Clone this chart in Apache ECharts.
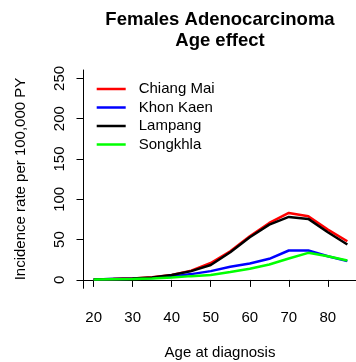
<!DOCTYPE html>
<html>
<head>
<meta charset="utf-8">
<script src="https://cdn.jsdelivr.net/npm/echarts@6/dist/echarts.min.js"></script>
<style>html,body{margin:0;padding:0;background:#fff;}#c{width:356px;height:362px;}</style>
</head>
<body>
<div id="c"></div>
<script>
const ages = [20,25,30,35,40,45,50,55,60,65,70,75,80,85];
const chiangMai = [0.6,1.2,1.9,3.2,6.2,11.5,21,35.6,54.2,70.7,83.1,78.9,62.4,48];
const khonKaen = [0.5,1.0,1.5,2.5,4.0,7.2,10.9,16.3,20.4,26.2,36.5,36.5,29.4,23.3];
const lampang = [0.6,1.2,1.8,3.0,6.0,10.9,18.5,34.4,53,68.6,78.1,75.7,59.1,43.9];
const songkhla = [0.4,0.8,1.2,1.9,3.0,4.7,6.0,9.7,13.8,19.2,26.6,33.6,29.4,24.1];
const seriesNames = ['Chiang Mai','Khon Kaen','Lampang','Songkhla'];
const xTicks = [20,30,40,50,60,70,80];
const yTicks = [0,50,100,150,200,250];
const titleText = 'Females Adenocarcinoma\nAge effect';
const xTitle = 'Age at diagnosis';
const yTitle = 'Incidence rate per 100,000 PY';

const FONT = "'Liberation Sans', Arial, Helvetica, sans-serif";
const colors = ['#ff0000','#0000ff','#000000','#00ff00'];
const values = [chiangMai, khonKaen, lampang, songkhla];

const chart = echarts.init(document.getElementById('c'), null, {renderer:'canvas'});
chart.setOption({
  animation:false,
  backgroundColor:'#ffffff',
  textStyle:{fontFamily:FONT},
  grid:{left:83.5, top:70, width:274, height:218.3, containLabel:false, outerBoundsMode:'none'},
  xAxis:{
    type:'value', min:17.4, max:87.6,
    axisLine:{show:true, lineStyle:{color:'#000', width:1}},
    axisTick:{show:true, inside:false, length:7, customValues:xTicks, lineStyle:{color:'#000'}},
    axisLabel:{show:true, customValues:xTicks, margin:22, fontSize:15, color:'#000', fontFamily:FONT},
    splitLine:{show:false}
  },
  yAxis:{
    type:'value', min:-10.4, max:260.4,
    axisLine:{show:true, lineStyle:{color:'#000', width:1}},
    axisTick:{show:true, inside:false, length:7, customValues:yTicks, lineStyle:{color:'#000'}},
    axisLabel:{show:true, customValues:yTicks, rotate:90, margin:16.5, fontSize:15, color:'#000', fontFamily:FONT},
    splitLine:{show:false}
  },
  legend:{
    data:seriesNames, orient:'vertical', left:96.7, top:81.5, padding:0,
    icon:'rect', itemWidth:29, itemHeight:2.5, itemGap:3.5,
    textStyle:{fontSize:15, color:'#000', fontFamily:FONT, padding:[0,0,0,8]}
  },
  graphic:[
    {type:'text', x:220, y:30, style:{text:titleText, font:"bold 18.5px "+FONT, fill:'#000', textAlign:'center', textVerticalAlign:'middle', lineHeight:21}},
    {type:'text', x:220, y:353, style:{text:xTitle, font:"15px "+FONT, fill:'#000', textAlign:'center', textVerticalAlign:'middle'}},
    {type:'text', x:21, y:179, rotation:Math.PI/2, style:{text:yTitle, font:"15px "+FONT, fill:'#000', textAlign:'center', textVerticalAlign:'middle'}}
  ],
  series: seriesNames.map((n,i)=>({
    name:n, type:'line', symbol:'none', showSymbol:false, smooth:false,
    lineStyle:{color:colors[i], width:2.5}, itemStyle:{color:colors[i]},
    data: ages.map((a,j)=>[a, values[i][j]])
  }))
});
</script>
</body>
</html>
